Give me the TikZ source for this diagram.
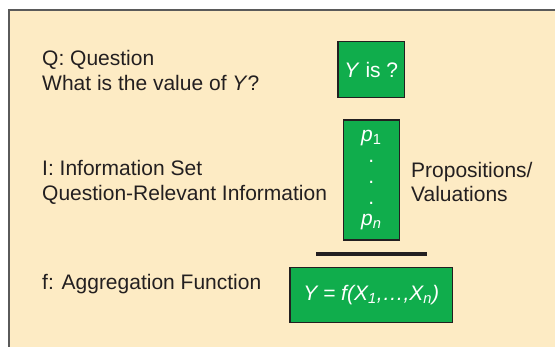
\documentclass[tikz,border=0pt]{standalone}
\usepackage{fontspec}
\setmainfont{Liberation Sans}
\usepackage{xcolor}
\usepackage{tikz}
\usetikzlibrary{positioning}
\definecolor{mybeige}{RGB}{253,235,196}
\definecolor{mygreen}{RGB}{16,173,76}
\definecolor{mydark}{RGB}{35,31,32}
\definecolor{myframe}{RGB}{90,90,90}
\tikzset{
  gbox/.style={rectangle, draw=mydark, fill=mygreen, text=white,
    align=center, inner sep=0pt, line width=1.1pt,
    font=\fontsize{21}{25}\selectfont},
  rowtext/.style={align=left, inner sep=0pt, text=mydark,
    font=\fontsize{21}{25}\selectfont},
  bar/.style={line width=4.4pt, color=mydark}
}

\begin{document}
\begin{tikzpicture}[x=1pt, y=-1pt]
  \useasboundingbox (0,0) rectangle (555,347);

  % Panel
  \fill[mybeige] (9,10) rectangle (556,348);
  \draw[myframe, line width=1.6pt] (9,348) -- (9,10) -- (556,10);

  % Question row
  \node[rowtext, anchor=west] (qtext) at (42,70.5) {Q: Question\\What is the value of \textit{Y}?};
  \node[gbox, minimum width=66.6pt, minimum height=56pt] (yis) at (371.3,69.7) {\textit{Y} is ?};

  % Information set row
  \node[rowtext, anchor=west] (itext) at (42,182.5) {I: Information Set\\Question-Relevant Information};
  \node[gbox, minimum width=56pt, minimum height=120pt,
    font=\fontsize{21}{21.2}\selectfont] (props) at (371.3,180)
    {\textit{p}\textsubscript{1}\\.\\.\\.\\\textit{p}\textsubscript{\textit{n}}};
  \node[rowtext, anchor=west, font=\fontsize{21}{24}\selectfont] (ptext) at (411,181.5) {Propositions/\\Valuations};

  % Aggregation row
  \draw[bar] (316,253.9) -- (426.5,253.9);
  \node[rowtext, anchor=base west] (ftext) at (42,289.3) {f: Aggregation Function};
  \node[gbox, minimum width=162.4pt, minimum height=55pt] (agg) at (371.2,295.2)
    {\itshape Y = f(X\textsubscript{1},\ldots,X\textsubscript{n})};

\end{tikzpicture}
\end{document}
